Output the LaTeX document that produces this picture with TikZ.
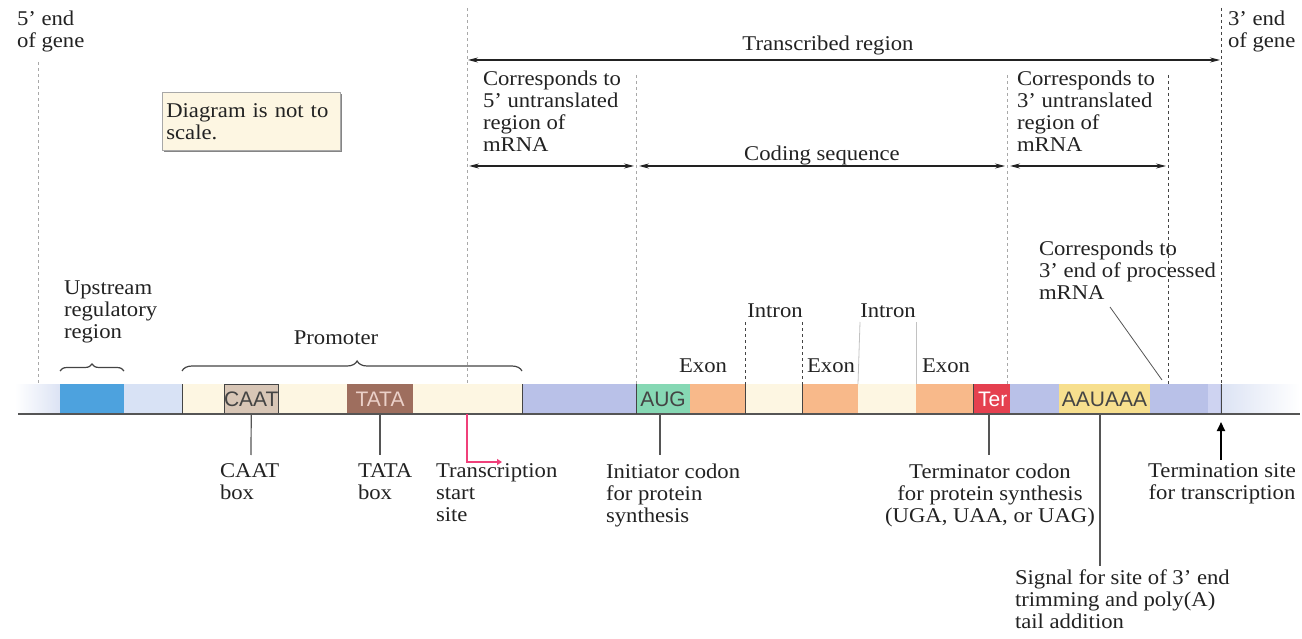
\documentclass[tikz,border=0pt]{standalone}
\usepackage{fontspec}
\setmainfont[FakeStretch=1.08]{Liberation Serif}
\newfontfamily\boxfont{Liberation Sans}
\usetikzlibrary{arrows.meta,decorations.pathreplacing,shadows}
\definecolor{txt}{HTML}{222222}
\definecolor{fadeblue}{HTML}{DCE3F4}
\definecolor{upblue}{HTML}{4DA2DE}
\definecolor{ltblue}{HTML}{D8E2F5}
\definecolor{cream}{HTML}{FDF6E2}
\definecolor{caatc}{HTML}{D8C6B6}
\definecolor{tatac}{HTML}{9E6E5E}
\definecolor{tatatxt}{HTML}{EBD0C8}
\definecolor{lav}{HTML}{B9C1E8}
\definecolor{lavlt}{HTML}{CED3F1}
\definecolor{augc}{HTML}{86D8B4}
\definecolor{exonc}{HTML}{F8B98A}
\definecolor{terc}{HTML}{E5404F}
\definecolor{polyc}{HTML}{F7DF8E}
\definecolor{pinkc}{HTML}{F0407A}
\definecolor{guide}{HTML}{A8A8A8}
\definecolor{darkguide}{HTML}{444444}
\definecolor{conn}{HTML}{555555}
\begin{document}
\begin{tikzpicture}[x=1pt,y=-1pt,
  lbl/.style={inner sep=0pt, outer sep=0pt, align=left, anchor=north west, text=txt,
    font=\fontsize{21}{22}\selectfont},
  clbl/.style={lbl, align=center, anchor=north},
  seg/.style={inner sep=0pt, outer sep=0pt, minimum height=30pt, anchor=north west, draw=none},
  segtxt/.style={font=\boxfont\fontsize{21}{21}\selectfont},
  edge/.style={draw=darkguide, line width=1pt},
  guideline/.style={draw=guide, dashed, dash pattern=on 3pt off 3pt, line width=0.8pt},
  darkguideline/.style={draw=darkguide, dashed, dash pattern=on 3pt off 3pt, line width=1pt},
  dim/.style={draw=txt, line width=1.1pt, {Stealth[length=10pt,width=5pt]}-{Stealth[length=10pt,width=5pt]}},
  connector/.style={draw=conn, line width=1.2pt},
  bracestyle/.style={draw=darkguide, line width=1.2pt, decorate},
]
\useasboundingbox (0,0) rectangle (1302,639);

% ---------- gene bar ----------
\node[seg, minimum width=45pt, left color=white, right color=fadeblue] (fadeL) at (15,384) {};
\node[seg, minimum width=64pt, fill=upblue] (upr) at (60,384) {};
\node[seg, minimum width=58pt, fill=ltblue] (lb1) at (124,384) {};
\node[seg, minimum width=340pt, fill=cream] (prom) at (182,384) {};
\node[seg, minimum width=54pt, fill=caatc, draw=darkguide, line width=0.8pt, segtxt, text=darkguide] (caat) at (224,384) {CAAT};
\node[seg, minimum width=66pt, fill=tatac, segtxt, text=tatatxt] (tata) at (347,384) {TATA};
\node[seg, minimum width=114pt, fill=lav] (lav1) at (522,384) {};
\node[seg, minimum width=54pt, fill=augc, segtxt, text=darkguide] (aug) at (636,384) {AUG};
\node[seg, minimum width=55pt, fill=exonc] (ex1) at (690,384) {};
\node[seg, minimum width=57pt, fill=cream] (in1) at (745,384) {};
\node[seg, minimum width=56pt, fill=exonc] (ex2) at (802,384) {};
\node[seg, minimum width=58pt, fill=cream] (in2) at (858,384) {};
\node[seg, minimum width=57pt, fill=exonc] (ex3) at (916,384) {};
\node[seg, minimum width=37pt, fill=terc] (ter) at (973,384) {};
\begin{scope}
  \clip (973,384) rectangle (1010,414);
  \node[inner sep=0pt, anchor=west, segtxt, text=white] (tertxt) at (978,399) {Ter};
\end{scope}
\node[seg, minimum width=49pt, fill=lav] (lav2) at (1010,384) {};
\node[seg, minimum width=91pt, fill=polyc, segtxt, text=darkguide] (poly) at (1059,384) {AAUAAA};
\node[seg, minimum width=71pt, fill=lav] (lav3) at (1150,384) {};
\node[seg, minimum width=12pt, fill=lavlt] (stripe) at (1208,384) {};
\node[seg, minimum width=79pt, left color=fadeblue, right color=white] (fadeR) at (1221,384) {};

% bar base line and segment edges
\coordinate (baseL) at (18,414);
\coordinate (baseR) at (1300,414);
\draw[draw=conn, line width=1.2pt] (baseL) -- (baseR);
\foreach \s in {prom,lav1,aug,in1,ex2,ter}{
  \draw[edge] (\s.north west) -- (\s.south west);
}
\draw[edge] (fadeR.north west) -- (fadeR.south west);

% ---------- vertical guide lines ----------
\coordinate (gL1) at (38,62);    \coordinate (gL2) at (38,384);
\coordinate (gS1) at (467,8);    \coordinate (gS2) at (467,384);
\coordinate (gA1) at (636,75);   \coordinate (gA2) at (636,384);
\coordinate (gT1) at (1007,75);  \coordinate (gT2) at (1007,384);
\coordinate (gP1) at (1168,75);  \coordinate (gP2) at (1168,384);
\coordinate (gE1) at (1221,8);   \coordinate (gE2) at (1221,384);
\draw[guideline] (gL1) -- (gL2);
\draw[guideline] (gS1) -- (gS2);
\draw[guideline] (gA1) -- (gA2);
\draw[guideline] (gT1) -- (gT2);
\draw[darkguideline] (gP1) -- (gP2);
\draw[darkguideline] (gE1) -- (gE2);

% intron guides
\coordinate (i1a) at (745,322); \coordinate (i1b) at (802,322);
\coordinate (i2a) at (860,322); \coordinate (i2b) at (916,322);
\draw[darkguideline] (i1a) -- (in1.north west);
\draw[darkguideline] (i1b) -- (ex2.north west);
\draw[draw=guide!70, line width=0.8pt] (i2a) -- (in2.north west);
\draw[draw=guide!70, line width=0.8pt] (i2b) -- (ex3.north west);

% ---------- dimension arrows ----------
\coordinate (tr1) at (468,60);  \coordinate (tr2) at (1220,60);
\draw[dim] (tr1) -- (tr2);
\coordinate (u51) at (469,166); \coordinate (u52) at (634,166);
\draw[dim] (u51) -- (u52);
\coordinate (cd1) at (639,166); \coordinate (cd2) at (1005,166);
\draw[dim] (cd1) -- (cd2);
\coordinate (u31) at (1010,166); \coordinate (u32) at (1166,166);
\draw[dim] (u31) -- (u32);

% ---------- top labels ----------
\node[lbl] (end5) at (17,11) {5' end\\of gene};
\node[lbl] (end3) at (1228,11) {3' end\\of gene};
\node[clbl] (trlbl) at (828,36) {Transcribed region};
\node[lbl] (utr5) at (483,71) {Corresponds to\\5' untranslated\\region of\\mRNA};
\node[clbl] (cdlbl) at (822,146) {Coding sequence};
\node[lbl] (utr3) at (1017,71) {Corresponds to\\3' untranslated\\region of\\mRNA};

\node[draw=guide, line width=0.6pt, fill=cream, anchor=north west, minimum width=178pt, minimum height=58pt,
      text width=170pt, inner xsep=4pt, inner ysep=6pt, align=left, text=txt, font=\fontsize{21}{22}\selectfont,
      drop shadow={shadow xshift=2pt, shadow yshift=-2pt, fill=black!60, opacity=0.8}] (note) at (162,92)
      {Diagram is not to\\scale.};

% ---------- labels above bar ----------
\node[lbl] (uplbl) at (64,281) {Upstream\\regulatory\\region};
\draw[bracestyle, decoration={brace, amplitude=7pt}] (60,371) -- (124,371);
\node[clbl] (promlbl) at (336,331) {Promoter};
\draw[bracestyle, decoration={brace, amplitude=10pt, aspect=0.515}] (182,371) -- (522,371);

\node[clbl] (exl1) at (703,359) {Exon};
\node[clbl] (exl2) at (831,359) {Exon};
\node[clbl] (exl3) at (946,359) {Exon};
\node[clbl] (inl1) at (775,304) {Intron};
\node[clbl] (inl2) at (888,304) {Intron};

\node[lbl] (procl) at (1039,241) {Corresponds to\\3' end of processed\\mRNA};
\coordinate (procend) at (1162,380);
\coordinate (procstart) at (1110,307);
\draw[draw=conn, line width=0.8pt] (procstart) -- (procend);

% ---------- labels below bar ----------
\node[lbl] (caatl) at (220,464) {CAAT\\box};
\node[lbl] (tatal) at (358,464) {TATA\\box};
\node[lbl] (tssl) at (436,464) {Transcription\\start\\site};
\node[lbl] (augl) at (606,464) {Initiator codon\\for protein\\synthesis};
\node[clbl] (terl) at (990,464) {Terminator codon\\for protein synthesis\\(UGA, UAA, or UAG)};
\node[clbl] (tsl) at (1222,464) {Termination site\\for transcription};
\node[lbl] (sigl) at (1015,570) {Signal for site of 3' end\\trimming and poly(A)\\tail addition};

\coordinate (caatend) at (251,455);
\draw[connector] (caat.south) -- (caatend);
\coordinate (tataend) at (380,455);
\draw[connector] (tata.south) -- (tataend);
\coordinate (augend) at (660,455);
\draw[connector] (aug.south -| augend) -- (augend);
\coordinate (terend) at (989,455);
\draw[connector] (ter.south -| terend) -- (terend);
\coordinate (polyend) at (1100,566);
\draw[connector] (poly.south -| polyend) -- (polyend);

% transcription start (bent arrow)
\coordinate (tss0) at (467,414);
\coordinate (tss1) at (467,462);
\coordinate (tss2) at (502,462);
\draw[draw=pinkc, line width=2pt, -{Triangle[length=5pt,width=6pt]}] (tss0) -- (tss1) -- (tss2);

% termination site arrow
\coordinate (term0) at (1221,460);
\coordinate (term1) at (1221,422);
\draw[draw=black, line width=2pt, -{Triangle[length=9pt,width=8pt]}] (term0) -- (term1);
\end{tikzpicture}
\end{document}
